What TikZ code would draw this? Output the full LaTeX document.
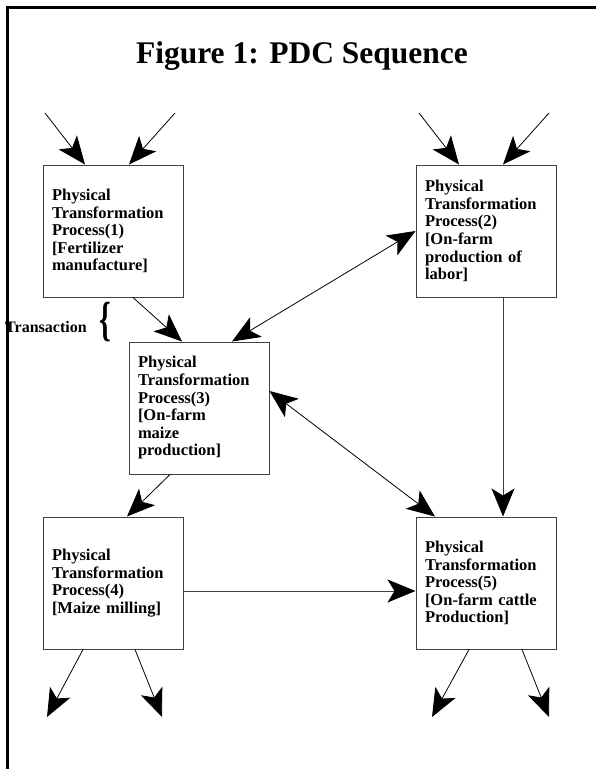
\documentclass[tikz,border=0pt]{standalone}
\usepackage{fontspec}
\setmainfont{Liberation Serif}
\usetikzlibrary{arrows.meta}
\tikzset{
  bighead/.tip={Stealth[length=28pt,width=23pt,inset=7pt,color=black]},
  procbox/.style={draw=black!75, line width=1pt, minimum width=140pt, minimum height=132pt,
    inner xsep=9pt, text width=122pt, align=left,
    font=\fontsize{16.5}{17.6}\selectfont\bfseries},
  conn/.style={line width=0.8pt, -bighead},
  dconn/.style={line width=0.8pt, bighead-bighead},
  gconn/.style={conn, draw=black!75, line width=1pt}
}
\begin{document}
\begin{tikzpicture}[x=1pt,y=-1pt]
\useasboundingbox (0,0) rectangle (596,769);
% frame
\draw[line width=2.2pt] (7.5,769) -- (7.5,7.5) -- (596,7.5);
% title
\node[anchor=base, font=\fontsize{31.5}{33}\selectfont\bfseries, inner sep=0pt] (title) at (302,63) {Figure 1: PDC Sequence};
% boxes
\node[procbox] (b1) at (113,231) {Physical\\Transformation\\Process(1)\\[0pt][Fertilizer\\manufacture]};
\node[procbox] (b2) at (486,231) {Physical\\Transformation\\Process(2)\\[0pt][On-farm\\production of\\labor]};
\node[procbox] (b3) at (199,408) {Physical\\Transformation\\Process(3)\\[0pt][On-farm\\maize\\production]};
\node[procbox] (b4) at (113,583) {Physical\\Transformation\\Process(4)\\[0pt][Maize milling]};
\node[procbox] (b5) at (486,583) {Physical\\Transformation\\Process(5)\\[0pt][On-farm cattle\\Production]};
% transaction label and brace
\node[anchor=base west, font=\fontsize{16}{17}\selectfont\bfseries, inner sep=0pt] (trans) at (5,332) {Transaction};
\node[font=\fontsize{48}{48}\selectfont\bfseries, inner sep=0pt] (brace) at (105,322) {\scalebox{0.62}[1]{\{}};
% free ends
\coordinate (i1a) at (45,113);
\coordinate (i1b) at (175,113);
\coordinate (i2a) at (419,113);
\coordinate (i2b) at (549,113);
\coordinate (o4a) at (47,717);
\coordinate (o4b) at (162,717);
\coordinate (o5a) at (432,717);
\coordinate (o5b) at (549,717);
% incoming
\draw[conn] (i1a) -- ([xshift=-28pt]b1.north);
\draw[conn] (i1b) -- ([xshift=16pt]b1.north);
\draw[conn] (i2a) -- ([xshift=-27pt]b2.north);
\draw[conn] (i2b) -- ([xshift=17pt]b2.north);
% between boxes
\draw[conn] ([xshift=20pt]b1.south) -- ([xshift=-17pt]b3.north);
\draw[dconn] (b2.west) -- ([xshift=33pt]b3.north);
\draw[dconn] ([yshift=17pt]b3.east) -- ([xshift=-51pt]b5.north);
\draw[gconn] ([xshift=17pt]b2.south) -- ([xshift=17pt]b5.north);
\draw[conn] ([xshift=-29pt]b3.south) -- ([xshift=14pt]b4.north);
\draw[gconn] ([yshift=-8pt]b4.east) -- ([yshift=-8pt]b5.west);
% outgoing
\draw[conn] ([xshift=-30pt]b4.south) -- (o4a);
\draw[conn] ([xshift=22pt]b4.south) -- (o4b);
\draw[conn] ([xshift=-17pt]b5.south) -- (o5a);
\draw[conn] ([xshift=36pt]b5.south) -- (o5b);
\end{tikzpicture}
\end{document}
